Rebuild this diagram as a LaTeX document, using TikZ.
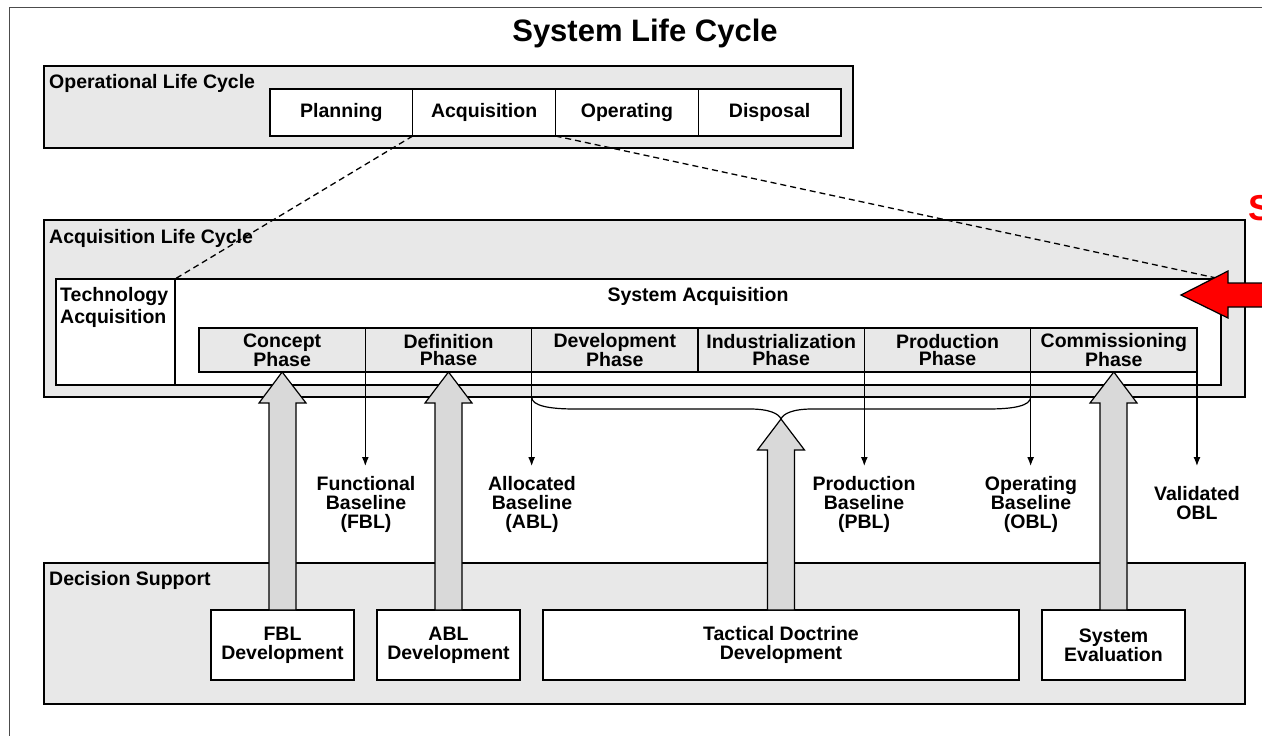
\documentclass[tikz,border=0pt]{standalone}
\usepackage{fontspec}
\setmainfont{Liberation Sans}
\usepackage{xcolor}
\definecolor{boxgray}{gray}{0.91}
\definecolor{arrgray}{gray}{0.85}
\usetikzlibrary{calc,arrows.meta}
\newcommand{\lblfont}{\fontsize{19.5}{19}\selectfont\bfseries}
\newcommand{\phfont}{\fontsize{19.5}{17}\selectfont\bfseries}
\newcommand{\blockup}[2]{%
\draw[blockarr] let \p1=(#1), \p2=(#2) in
(\x1-13.5pt,\y1) -- (\x1-13.5pt,\y2-31pt) -- (\x1-23.5pt,\y2-31pt) -- (\x2,\y2)
-- (\x1+23.5pt,\y2-31pt) -- (\x1+13.5pt,\y2-31pt) -- (\x1+13.5pt,\y1) -- cycle;}
\tikzset{
grp/.style={draw, line width=1.8pt, fill=boxgray, anchor=north west, inner sep=0pt, outer sep=0pt},
cell/.style={draw, line width=1.2pt, fill=white, anchor=north west, inner sep=0pt, outer sep=0pt, align=center, font=\lblfont},
phase/.style={cell, fill=boxgray, font=\phfont, minimum width=166.33pt, minimum height=44pt},
grplabel/.style={anchor=base west, inner sep=0pt, font=\lblfont},
baselbl/.style={anchor=north, align=center, font=\lblfont, inner xsep=0pt},
thinarr/.style={line width=1.2pt, -{Latex[length=9pt,width=7pt]}},
blockarr/.style={draw, line width=1.2pt, fill=arrgray}
}

\begin{document}
\begin{tikzpicture}[x=1pt,y=-1pt]
\useasboundingbox (0,0) rectangle (1262,736);
\draw[line width=1pt, black!70] (9,736) -- (9,7) -- (1262,7);
\node[anchor=base, inner sep=0pt, font=\fontsize{31}{31}\selectfont\bfseries] (title) at (645,41) {System Life Cycle};

\node[grp, minimum width=809pt, minimum height=82pt] (olc) at (44,66) {};
\node[grplabel] (olclbl) at (49,88) {Operational Life Cycle};
\foreach \i/\n/\t in {0/plan/Planning, 1/acqcell/Acquisition, 2/oper/Operating, 3/disp/Disposal}
\node[cell, minimum width=142.75pt, minimum height=47pt] (\n) at (270+\i*142.75,89) {\t};

\node[grp, minimum width=1201pt, minimum height=177pt] (alc) at (44,220) {};
\node[grplabel] (alclbl) at (49,243) {Acquisition Life Cycle};
\node[cell, minimum width=119pt, minimum height=106pt] (tech) at (56,279) {};
\node[anchor=west, align=left, inner sep=0pt, font=\fontsize{19.5}{22}\selectfont\bfseries] (techlbl) at (60,307) {Technology\\Acquisition};
\node[cell, minimum width=1046pt, minimum height=106pt] (sysacq) at (175,279) {};
\node[grplabel, anchor=base] (sysacqlbl) at (698,301) {System Acquisition};
\foreach \i/\n/\t in {0/concept/Concept, 1/definition/Definition, 2/development/Development,
3/industrial/Industrialization, 4/production/Production, 5/commissioning/Commissioning}
\node[phase] (\n) at (199+\i*166.33,328) {\t\\Phase};

\draw[dashed, dash pattern=on 6pt off 4pt, line width=1.3pt] (acqcell.south west) -- (tech.north east);
\draw[dashed, dash pattern=on 6pt off 4pt, line width=1.3pt] (acqcell.south east) -- (sysacq.north east);

\coordinate (bracetip) at (781,419);
\draw[line width=1.2pt] (development.south west |- alc.south) .. controls +(0,9) and +(-25,0) .. (575,409)
-- (750,409) .. controls +(20,0) and +(-2,-5) .. (bracetip)
.. controls +(2,-5) and +(-20,0) .. (812,409) -- (988,409)
.. controls +(25,0) and +(0,9) .. (commissioning.south west |- alc.south);

\foreach \x/\a/\s/\n/\t in {
366/definition.south west/10/fbl/Functional\\Baseline\\(FBL),
532/definition.south east/10/abl/Allocated\\Baseline\\(ABL),
864/production.south west/10/pbl/Production\\Baseline\\(PBL),
1031/commissioning.south west/10/obl/Operating\\Baseline\\(OBL),
1197/commissioning.south east/20/vobl/Validated\\OBL
}{
\node[baselbl, inner ysep=\s pt] (\n) at (\x,466) {\t};
\draw[thinarr] (\a) -- (\a |- \n.north);
}

\node[grp, minimum width=1201pt, minimum height=141pt] (ds) at (44,563) {};
\node[grplabel] (dslbl) at (49,585) {Decision Support};
\foreach \x/\w/\n/\t in {211/143/fbldev/FBL\\Development, 377/143/abldev/ABL\\Development,
543/476/tacdev/Tactical Doctrine\\Development, 1042/143/syseval/System\\Evaluation}
\node[cell, minimum width=\w pt, minimum height=70pt] (\n) at (\x,610) {\t};

\blockup{fbldev.north}{concept.south}
\blockup{abldev.north}{definition.south}
\blockup{tacdev.north}{bracetip}
\blockup{syseval.north}{commissioning.south}

\coordinate (redtip) at (1181,295);
\draw[line width=1.2pt, fill=red] (redtip) -- ++(47,-24) -- ++(0,12) -- ++(40,0) -- ++(0,24) -- ++(-40,0) -- ++(0,11) -- cycle;
\node[anchor=base west, inner sep=0pt, text=red, font=\fontsize{36}{36}\selectfont\bfseries] (redS) at (1248,220) {S};
\end{tikzpicture}
\end{document}
